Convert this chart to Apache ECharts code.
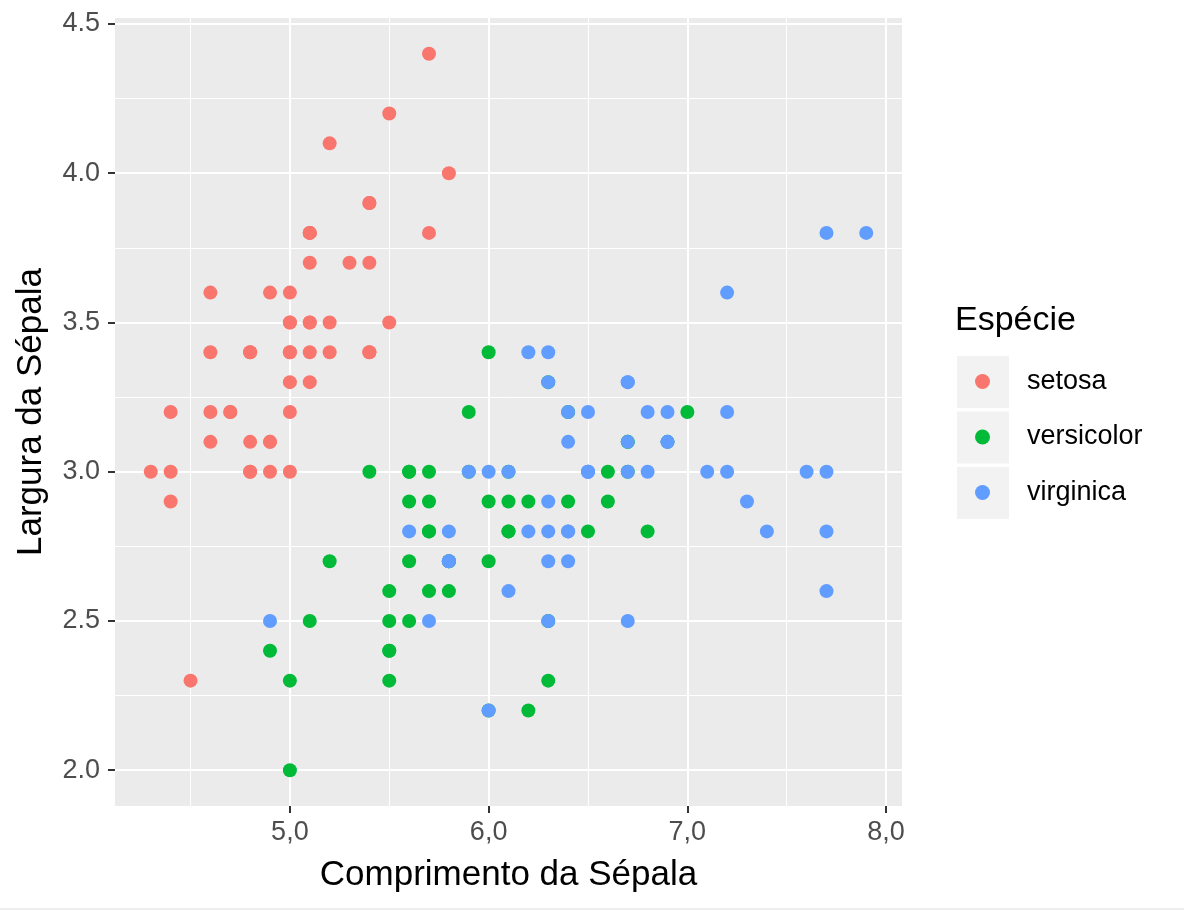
<!DOCTYPE html>
<html>
<head>
<meta charset="utf-8">
<script src="https://cdn.jsdelivr.net/npm/echarts@6/dist/echarts.min.js"></script>
<style>
  html, body { margin: 0; padding: 0; background: #fff; }
  #chart { width: 1184px; height: 911px; }
</style>
</head>
<body>
<div id="chart"></div>
<script>
// iris: [Sepal.Length, Sepal.Width]
var setosa = [
  [5.1,3.5],[4.9,3.0],[4.7,3.2],[4.6,3.1],[5.0,3.6],[5.4,3.9],[4.6,3.4],[5.0,3.4],[4.4,2.9],[4.9,3.1],
  [5.4,3.7],[4.8,3.4],[4.8,3.0],[4.3,3.0],[5.8,4.0],[5.7,4.4],[5.4,3.9],[5.1,3.5],[5.7,3.8],[5.1,3.8],
  [5.4,3.4],[5.1,3.7],[4.6,3.6],[5.1,3.3],[4.8,3.4],[5.0,3.0],[5.0,3.4],[5.2,3.5],[5.2,3.4],[4.7,3.2],
  [4.8,3.1],[5.4,3.4],[5.2,4.1],[5.5,4.2],[4.9,3.1],[5.0,3.2],[5.5,3.5],[4.9,3.6],[4.4,3.0],[5.1,3.4],
  [5.0,3.5],[4.5,2.3],[4.4,3.2],[5.0,3.5],[5.1,3.8],[4.8,3.0],[5.1,3.8],[4.6,3.2],[5.3,3.7],[5.0,3.3]
];
var versicolor = [
  [7.0,3.2],[6.4,3.2],[6.9,3.1],[5.5,2.3],[6.5,2.8],[5.7,2.8],[6.3,3.3],[4.9,2.4],[6.6,2.9],[5.2,2.7],
  [5.0,2.0],[5.9,3.0],[6.0,2.2],[6.1,2.9],[5.6,2.9],[6.7,3.1],[5.6,3.0],[5.8,2.7],[6.2,2.2],[5.6,2.5],
  [5.9,3.2],[6.1,2.8],[6.3,2.5],[6.1,2.8],[6.4,2.9],[6.6,3.0],[6.8,2.8],[6.7,3.0],[6.0,2.9],[5.7,2.6],
  [5.5,2.4],[5.5,2.4],[5.8,2.7],[6.0,2.7],[5.4,3.0],[6.0,3.4],[6.7,3.1],[6.3,2.3],[5.6,3.0],[5.5,2.5],
  [5.5,2.6],[6.1,3.0],[5.8,2.6],[5.0,2.3],[5.6,2.7],[5.7,3.0],[5.7,2.9],[6.2,2.9],[5.1,2.5],[5.7,2.8]
];
var virginica = [
  [6.3,3.3],[5.8,2.7],[7.1,3.0],[6.3,2.9],[6.5,3.0],[7.6,3.0],[4.9,2.5],[7.3,2.9],[6.7,2.5],[7.2,3.6],
  [6.5,3.2],[6.4,2.7],[6.8,3.0],[5.7,2.5],[5.8,2.8],[6.4,3.2],[6.5,3.0],[7.7,3.8],[7.7,2.6],[6.0,2.2],
  [6.9,3.2],[5.6,2.8],[7.7,2.8],[6.3,2.7],[6.7,3.3],[7.2,3.2],[6.2,2.8],[6.1,3.0],[6.4,2.8],[7.2,3.0],
  [7.4,2.8],[7.9,3.8],[6.4,2.8],[6.3,2.8],[6.1,2.6],[7.7,3.0],[6.3,3.4],[6.4,3.1],[6.0,3.0],[6.9,3.1],
  [6.7,3.1],[6.9,3.1],[5.8,2.7],[6.8,3.2],[6.7,3.3],[6.7,3.0],[6.3,2.5],[6.5,3.0],[6.2,3.4],[5.9,3.0]
];
var speciesNames = ['setosa', 'versicolor', 'virginica'];
var speciesColors = ['#F8766D', '#00BA38', '#619CFF'];
var xTicks = [5, 6, 7, 8];
var yTicks = [2.0, 2.5, 3.0, 3.5, 4.0, 4.5];
var xMinor = [4.5, 5.5, 6.5, 7.5];
var yMinor = [2.25, 2.75, 3.25, 3.75, 4.25];

var FONT = "'Liberation Sans', Arial, sans-serif";
var chart = echarts.init(document.getElementById('chart'));

// panel grid lines drawn as markLines (under the points)
var gridLines = [];
xMinor.forEach(function (v) { gridLines.push({ xAxis: v, lineStyle: { width: 1 } }); });
yMinor.forEach(function (v) { gridLines.push({ yAxis: v, lineStyle: { width: 1 } }); });
xTicks.forEach(function (v) { gridLines.push({ xAxis: v, lineStyle: { width: 2 } }); });
yTicks.forEach(function (v) { gridLines.push({ yAxis: v, lineStyle: { width: 2 } }); });

var allData = [setosa, versicolor, virginica];
var series = [{
  type: 'scatter',
  data: [],
  silent: true,
  z: 1,
  markLine: {
    silent: true,
    symbol: 'none',
    animation: false,
    label: { show: false },
    lineStyle: { color: '#ffffff', type: 'solid' },
    data: gridLines
  }
}];
speciesNames.forEach(function (name, i) {
  series.push({
    name: name,
    type: 'scatter',
    data: allData[i],
    symbolSize: 14,
    zlevel: 1,
    z: 3,
    itemStyle: { color: speciesColors[i], opacity: 1 }
  });
});

chart.setOption({
  animation: false,
  textStyle: { fontFamily: FONT },
  title: {
    text: 'Espécie',
    left: 955,
    top: 304,
    padding: 0,
    textStyle: { fontSize: 34, fontWeight: 'normal', color: '#000', fontFamily: FONT }
  },
  legend: {
    orient: 'vertical',
    left: 975,
    top: 368,
    padding: 0,
    icon: 'circle',
    itemWidth: 15,
    itemHeight: 15,
    itemGap: 28.5,
    data: speciesNames,
    textStyle: { fontSize: 27, color: '#000', lineHeight: 27, padding: [0, 0, 0, 32], fontFamily: FONT }
  },
  graphic: [
    { type: 'rect', left: 957, top: 356, shape: { width: 52, height: 52 }, style: { fill: '#F2F2F2' }, z: -1 },
    { type: 'rect', left: 957, top: 411.5, shape: { width: 52, height: 52 }, style: { fill: '#F2F2F2' }, z: -1 },
    { type: 'rect', left: 957, top: 467, shape: { width: 52, height: 52 }, style: { fill: '#F2F2F2' }, z: -1 },
    { type: 'line', shape: { x1: 0, y1: 909, x2: 1184, y2: 909 }, style: { stroke: '#dddddd', lineWidth: 1 } }
  ],
  grid: {
    left: 115,
    right: 282,
    top: 18,
    bottom: 105,
    show: true,
    backgroundColor: '#EBEBEB',
    borderWidth: 0,
    containLabel: false
  },
  xAxis: {
    type: 'value',
    min: 4.12,
    max: 8.08,
    name: 'Comprimento da Sépala',
    nameLocation: 'middle',
    nameGap: 52,
    nameTextStyle: { fontSize: 35, color: '#000', fontFamily: FONT },
    axisLine: { show: false },
    splitLine: { show: false },
    axisTick: { show: true, customValues: xTicks, length: 7, lineStyle: { color: '#333', width: 2 } },
    axisLabel: {
      customValues: xTicks,
      fontSize: 27,
      color: '#4D4D4D',
      margin: 13,
      formatter: function (v) { return v.toFixed(1).replace('.', ','); }
    }
  },
  yAxis: {
    type: 'value',
    min: 1.88,
    max: 4.52,
    name: 'Largura da Sépala',
    nameLocation: 'middle',
    nameGap: 66,
    nameRotate: 90,
    nameTextStyle: { fontSize: 35, color: '#000', fontFamily: FONT },
    axisLine: { show: false },
    splitLine: { show: false },
    axisTick: { show: true, customValues: yTicks, length: 7, lineStyle: { color: '#333', width: 2 } },
    axisLabel: {
      customValues: yTicks,
      fontSize: 27,
      color: '#4D4D4D',
      margin: 15,
      formatter: function (v) { return v.toFixed(1); }
    }
  },
  series: series
});
</script>
</body>
</html>
